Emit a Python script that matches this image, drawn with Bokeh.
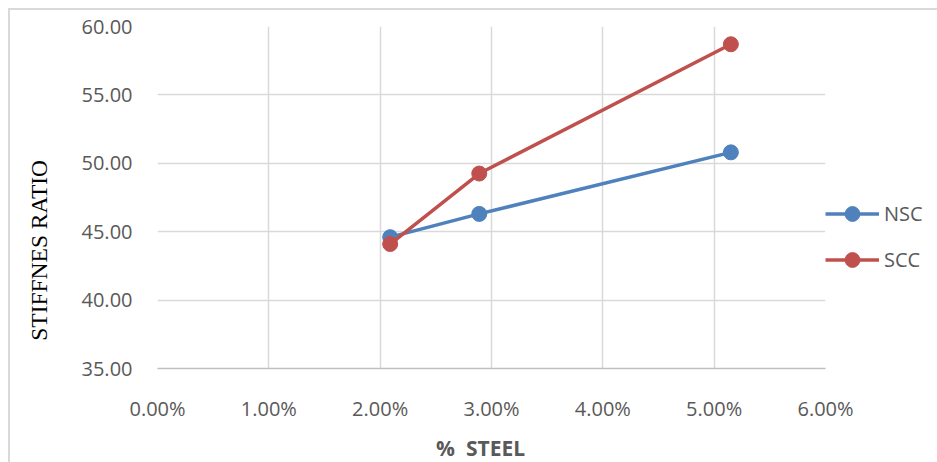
from bokeh.plotting import figure
from bokeh.models import NumeralTickFormatter, FixedTicker, Range1d, Legend, LegendItem, Spacer
from bokeh.layouts import column, row
from bokeh.embed import file_html
from bokeh.resources import INLINE

# data
steel = [0.0209, 0.0289, 0.0515]
nsc = [44.6, 46.3, 50.8]
scc = [44.1, 49.25, 58.7]
x_ticks = [0.0, 0.01, 0.02, 0.03, 0.04, 0.05, 0.06]
y_ticks = [35, 40, 45, 50, 55, 60]

BLUE = "#4F81BD"
RED = "#C0504D"
GRID = "#D9D9D9"
TXT = "#595959"
NB = "\u00a0"

p = figure(frame_width=666, frame_height=340, output_backend="svg", toolbar_location=None,
           x_range=Range1d(0, 0.06), y_range=Range1d(35, 60),
           min_border_left=147, min_border_right=104, min_border_top=16,
           min_border_bottom=84)
p.styles = {"border-top": "2px solid #D9D9D9", "border-left": "2px solid #D9D9D9"}
p.outline_line_color = None
p.background_fill_color = "white"
p.border_fill_color = "white"

r1 = p.line(steel, nsc, line_color=BLUE, line_width=3.5)
s1 = p.scatter(steel, nsc, size=15, fill_color=BLUE, line_color=BLUE)
r2 = p.line(steel, scc, line_color=RED, line_width=3.5)
s2 = p.scatter(steel, scc, size=15, fill_color=RED, line_color=RED)

p.xaxis.ticker = FixedTicker(ticks=x_ticks)
p.yaxis.ticker = FixedTicker(ticks=y_ticks)
p.xaxis.formatter = NumeralTickFormatter(format="0.00%")
p.yaxis.formatter = NumeralTickFormatter(format="0.00")

for ax in (p.xaxis[0], p.yaxis[0]):
    ax.major_tick_line_color = None
    ax.minor_tick_line_color = None
    ax.major_tick_out = 0
    ax.major_tick_in = 0
    ax.minor_tick_out = 0
    ax.minor_tick_in = 0
    ax.major_label_text_font = "Open Sans"
    ax.major_label_text_font_size = "20px"
    ax.major_label_text_color = TXT
    ax.axis_label_text_font_style = "normal"

p.yaxis.axis_line_color = None
p.xaxis.axis_line_color = "#BFBFBF"
p.xaxis.axis_line_width = 1.5
p.yaxis.major_label_standoff = 25
p.xaxis.major_label_standoff = 26

p.yaxis.axis_label = "STIFFNES RATIO" + NB * 18
p.yaxis.axis_label_text_font = "Liberation Serif"
p.yaxis.axis_label_text_font_size = "23.5px"
p.yaxis.axis_label_text_color = "black"
p.yaxis.axis_label_standoff = 27

p.xaxis.axis_label = "%" + NB * 2 + "STEEL" + NB * 4
p.xaxis.axis_label_text_font = "Open Sans"
p.xaxis.axis_label_text_font_size = "21px"
p.xaxis.axis_label_text_font_style = "bold"
p.xaxis.axis_label_text_color = TXT
p.xaxis.axis_label_standoff = 9

p.xgrid.grid_line_color = GRID
p.ygrid.grid_line_color = GRID
p.xgrid.grid_line_width = 1.5
p.ygrid.grid_line_width = 1.5

legend = Legend(items=[LegendItem(label="NSC", renderers=[r1, s1]),
                       LegendItem(label="SCC", renderers=[r2, s2])],
                location="top_left")
legend.title = NB
legend.title_text_font_size = "1px"
legend.title_standoff = 168
legend.glyph_width = 54
legend.glyph_height = 37
legend.label_height = 37
legend.spacing = 9
legend.padding = 2
legend.margin = 0
legend.label_standoff = 5
legend.label_text_font = "Open Sans"
legend.label_text_font_size = "20px"
legend.label_text_color = TXT
legend.border_line_color = None
legend.background_fill_alpha = 0
p.add_layout(legend, "right")

page = column(Spacer(height=8), row(Spacer(width=8), p))
open("out.html", "w").write(file_html(page, INLINE))
